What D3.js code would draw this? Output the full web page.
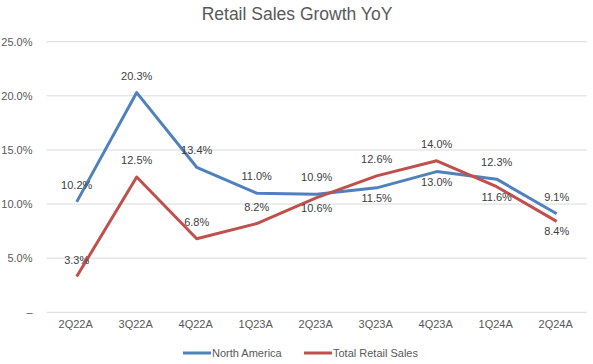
<!DOCTYPE html>
<html><head><meta charset="utf-8">
<script src="https://cdn.jsdelivr.net/npm/d3@7"></script>
<style>
html,body{margin:0;padding:0;background:#fff;}
svg{display:block;font-family:"Liberation Sans",Arial,sans-serif;}
</style></head>
<body>
<svg id="chart" width="593" height="364"></svg>
<script>
const categories = ["2Q22A","3Q22A","4Q22A","1Q23A","2Q23A","3Q23A","4Q23A","1Q24A","2Q24A"];
const northAmerica = [10.2,20.3,13.4,11.0,10.9,11.5,13.0,12.3,9.1];
const totalRetail = [3.3,12.5,6.8,8.2,10.6,12.6,14.0,11.6,8.4];
const yTicks = [0,5,10,15,20,25];
const seriesNames = ["North America","Total Retail Sales"];
const naLabelPos = ["above","above","above","above","above","below","below","above","above"];
const trLabelPos = ["above","above","above","above","below","above","above","below","below"];

const svg = d3.select("#chart");
const W = 593, H = 364;
const m = {left: 46.7, right: 6.3, top: 41.7, bottom: 51.7};
const x = d3.scaleBand().domain(categories).range([m.left, W - m.right]);
const y = d3.scaleLinear().domain([0, 25]).range([H - m.bottom, m.top]);
const blue = "#4f81bd", red = "#c0504d";

// title
svg.append("text").attr("x", 297).attr("y", 20).attr("text-anchor","middle")
  .attr("font-size", 17.5).attr("fill","#595959").text("Retail Sales Growth YoY");

// gridlines
svg.append("g").selectAll("line").data(yTicks).join("line")
  .attr("x1", m.left).attr("x2", W - m.right)
  .attr("y1", d => y(d)).attr("y2", d => y(d))
  .attr("stroke", "#d9d9d9").attr("stroke-width", 1);

// y axis
const yAxis = d3.axisLeft(y).tickValues(yTicks).tickSize(0).tickPadding(0)
  .tickFormat(d => d === 0 ? "–" : d.toFixed(1) + "%");
const gy = svg.append("g").attr("transform", `translate(${32.5},0)`).call(yAxis);
gy.select(".domain").remove();
gy.selectAll("text").attr("font-size", 11).attr("fill", "#595959")
  .attr("font-family", '"Liberation Sans",Arial,sans-serif');

// x axis
const xAxis = d3.axisBottom(x).tickSize(0).tickPadding(0);
const gx = svg.append("g").attr("transform", `translate(-1,${y(0) + 8})`).call(xAxis);
gx.select(".domain").remove();
gx.selectAll("text").attr("font-size", 11).attr("fill", "#595959")
  .attr("font-family", '"Liberation Sans",Arial,sans-serif');

const line = d3.line().x((d, i) => x(categories[i]) + x.bandwidth() / 2).y(d => y(d));

const series = [
  {name: seriesNames[0], values: northAmerica, color: blue, pos: naLabelPos},
  {name: seriesNames[1], values: totalRetail, color: red, pos: trLabelPos}
];

series.forEach(s => {
  svg.append("path").datum(s.values).attr("d", line)
    .attr("fill", "none").attr("stroke", s.color).attr("stroke-width", 3)
    .attr("stroke-linejoin", "round");
});

series.forEach(s => {
  svg.append("g").selectAll("text").data(s.values).join("text")
    .attr("x", (d, i) => x(categories[i]) + x.bandwidth() / 2)
    .attr("y", (d, i) => s.pos[i] === "above" ? y(d) - 13 : y(d) + 14)
    .attr("text-anchor", "middle").attr("font-size", 11).attr("fill", "#404040")
    .text(d => d.toFixed(1) + "%");
});

// legend
const legendX = [183, 304];
series.forEach((s, i) => {
  const g = svg.append("g").attr("transform", `translate(${legendX[i]},353)`);
  g.append("line").attr("x1", 0).attr("x2", 28).attr("y1", 0).attr("y2", 0)
    .attr("stroke", s.color).attr("stroke-width", 3);
  g.append("text").attr("x", 29).attr("y", 4).attr("font-size", 11).attr("fill", "#595959")
    .text(s.name);
});
</script>
</body></html>
